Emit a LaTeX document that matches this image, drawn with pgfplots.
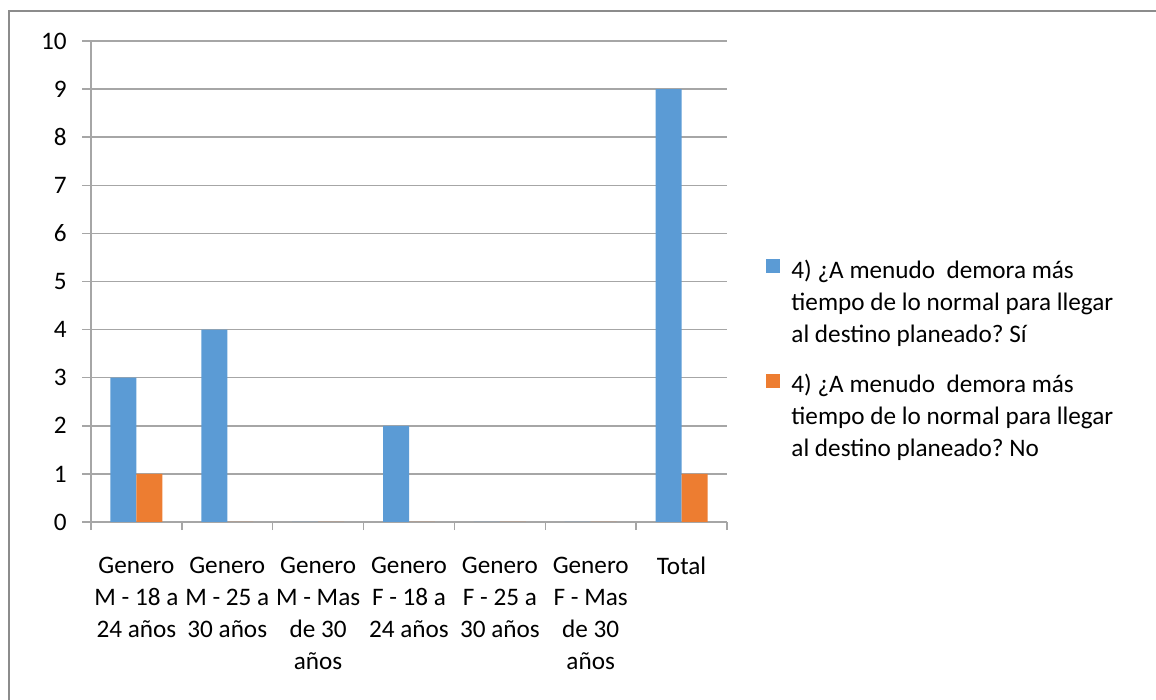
\documentclass[border=0pt]{standalone}
\usepackage{pgfplots}
\pgfplotsset{compat=1.18}
\usepackage{fontspec}
\setmainfont{Carlito}
\frenchspacing

\definecolor{barblue}{HTML}{5B9BD5}
\definecolor{barorange}{HTML}{ED7D31}
\definecolor{gridgray}{HTML}{A6A6A6}
\definecolor{framegray}{HTML}{8C8C8C}

\newcommand{\lfont}{\fontsize{12.6}{16}\selectfont}

\begin{document}
\begin{tikzpicture}
% page = 1156 x 700 px, 1 px = 0.5 pt, axis origin at px (91,522)
\useasboundingbox (-45.5pt,-89pt) rectangle (532.5pt,261pt);
\draw[framegray, line width=1pt] (-41pt,-89pt) -- (-41pt,255.5pt) -- (532.5pt,255.5pt);
\begin{axis}[
    ybar=0pt,
    scale only axis,
    width=318pt, height=240.5pt,
    xmin=-0.5, xmax=6.5,
    ymin=0, ymax=10,
    bar width=0.286,
    axis lines=left,
    axis line style={draw=gridgray, line width=0.75pt, -},
    ymajorgrids,
    grid style={draw=gridgray, line width=0.75pt},
    ytick={0,1,...,10},
    xtick={0,...,6},
    minor xtick={-0.5,0.5,...,6.5},
    xticklabels={{Genero\\M - 18 a\\24 años},{Genero\\M - 25 a\\30 años},{Genero\\M - Mas\\de 30\\años},{Genero\\F - 18 a\\24 años},{Genero\\F - 25 a\\30 años},{Genero\\F - Mas\\de 30\\años},{Total}},
    tick align=outside,
    major tick length=4.5pt,
    minor tick length=4pt,
    x tick style={draw=none},
    minor x tick style={draw=gridgray, line width=0.75pt},
    y tick style={draw=gridgray, line width=0.75pt},
    /pgf/number format/assume math mode=true,
    tick label style={font=\lfont, text=black},
    yticklabel style={anchor=east, inner sep=0pt, xshift=-7.5pt},
    xticklabel style={align=center, anchor=north, inner sep=0pt, yshift=-13pt},
    legend style={draw=none, fill=none, at={(1.062,0.553)}, anchor=north west,
        inner sep=0pt, outer sep=0pt, row sep=42.5pt, font=\lfont,
        cells={anchor=base west},
        /tikz/every odd column/.append style={column sep=3.5pt}},
]
\addplot[fill=barblue, draw=none,
    legend image code/.code={\fill[barblue] (0pt,2.5pt) rectangle (7pt,9.5pt);}]
    coordinates {(0,3) (1,4) (2,0) (3,2) (4,0) (5,0) (6,9)};
\addplot[fill=barorange, draw=none,
    legend image code/.code={\fill[barorange] (0pt,2.5pt) rectangle (7pt,9.5pt);}]
    coordinates {(0,1) (1,0) (2,0) (3,0) (4,0) (5,0) (6,1)};
\legend{{\parbox[t]{170pt}{\raggedright 4) ¿A menudo\ \ demora más\\tiempo de lo normal para llegar\\al destino planeado? Sí}},
        {\parbox[t]{170pt}{\raggedright 4) ¿A menudo\ \ demora más\\tiempo de lo normal para llegar\\al destino planeado? No}}}
\end{axis}
\end{tikzpicture}
\end{document}
